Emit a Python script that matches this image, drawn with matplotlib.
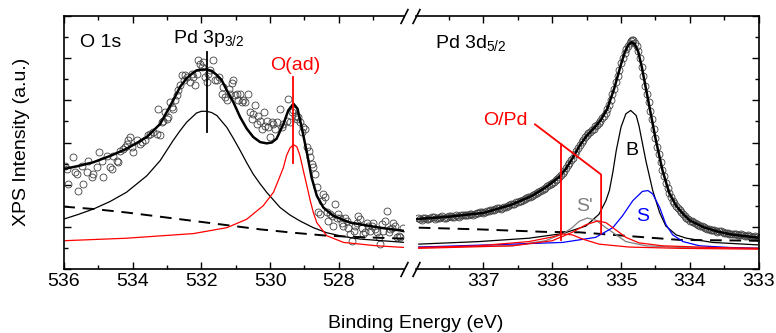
import numpy as np
import matplotlib
matplotlib.use("Agg")
import matplotlib.pyplot as plt
from matplotlib.ticker import MultipleLocator

plt.rcParams['font.family'] = ['Liberation Sans', 'DejaVu Sans']
plt.rcParams['mathtext.default'] = 'regular'

# ---------------- O 1s / Pd 3p region (left) ----------------
o1s_be = [535.97, 535.90, 535.87, 535.73, 535.68, 535.63, 535.58, 535.49, 535.44, 535.34,
          535.29, 535.19, 535.15, 535.05, 534.97, 534.90, 534.85, 534.76, 534.66, 534.61,
          534.56, 534.47, 534.42, 534.37, 534.27, 534.22, 534.18, 534.13, 534.08, 534.03,
          533.98, 533.88, 533.79, 533.74, 533.64, 533.54, 533.50, 533.40, 533.30, 533.25,
          533.20, 533.16, 533.11, 533.06, 533.01, 532.96, 532.91, 532.86, 532.82, 532.77,
          532.72, 532.67, 532.62, 532.57, 532.52, 532.48, 532.43, 532.33, 532.28, 532.23,
          532.18, 532.14, 532.09, 532.04, 531.99, 531.94, 531.89, 531.85, 531.80, 531.75,
          531.65, 531.60, 531.55, 531.50, 531.41, 531.36, 531.31, 531.26, 531.21, 531.17,
          531.12, 531.07, 531.02, 530.97, 530.92, 530.87, 530.83, 530.78, 530.73, 530.63,
          530.58, 530.53, 530.49, 530.44, 530.39, 530.34, 530.29, 530.24, 530.19, 530.15,
          530.10, 530.05, 530.00, 529.95, 529.90, 529.85, 529.81, 529.71, 529.66, 529.61,
          529.52, 529.47, 529.42, 529.37, 529.32, 529.27, 529.22, 529.18, 529.13, 529.08,
          529.03, 528.98, 528.93, 528.88, 528.83, 528.79, 528.74, 528.69, 528.64, 528.59,
          528.54, 528.49, 528.45, 528.40, 528.35, 528.30, 528.25, 528.20, 528.16, 528.11,
          528.06, 528.01, 527.96, 527.91, 527.87, 527.82, 527.77, 527.72, 527.67, 527.62,
          527.57, 527.52, 527.48, 527.43, 527.38, 527.33, 527.28, 527.23, 527.18, 527.14,
          527.09, 527.04, 526.99, 526.94, 526.89, 526.84, 526.80, 526.75, 526.70, 526.65,
          526.60, 526.55, 526.50, 526.46, 526.41, 526.36, 526.31, 526.26, 526.21, 526.12]
o1s_int = [2.45, 2.37, 2.02, 2.65, 2.29, 2.25, 1.86, 2.45, 2.02, 2.29,
           2.57, 2.17, 2.25, 2.41, 2.77, 2.57, 2.17, 2.69, 2.41, 2.37,
           2.69, 2.57, 2.53, 2.81, 2.85, 2.89, 2.97, 3.05, 3.13, 2.89,
           2.77, 3.05, 2.97, 3.01, 3.05, 3.17, 3.19, 3.25, 3.21, 3.80,
           3.17, 3.48, 3.52, 3.72, 3.56, 3.60, 3.96, 3.84, 3.80, 4.00,
           4.12, 4.24, 4.36, 4.60, 4.48, 4.60, 4.56, 4.44, 4.63, 4.56,
           4.36, 4.63, 4.95, 4.87, 4.79, 4.91, 4.56, 4.44, 4.63, 4.71,
           4.95, 4.48, 4.48, 4.56, 4.16, 4.32, 4.08, 4.00, 4.28, 4.16,
           4.40, 4.48, 4.12, 4.16, 4.00, 4.16, 3.96, 4.00, 3.96, 4.16,
           3.72, 3.56, 3.68, 3.88, 3.44, 3.64, 3.52, 3.33, 3.72, 3.40,
           3.52, 3.36, 3.13, 3.48, 3.44, 3.33, 3.48, 3.80, 3.36, 3.44,
           3.52, 4.04, 3.48, 3.72, 3.76, 3.64, 3.56, 3.60, 3.48, 3.25,
           3.36, 3.33, 2.89, 2.81, 2.65, 2.49, 2.41, 2.25, 1.94, 1.34,
           1.30, 1.62, 1.78, 1.70, 1.34, 1.14, 1.30, 1.26, 1.02, 1.54,
           1.22, 1.30, 1.22, 1.10, 1.02, 1.22, 1.14, 0.98, 0.83, 0.67,
           0.90, 1.02, 1.10, 1.26, 1.18, 0.98, 0.83, 0.87, 1.10, 1.02,
           0.90, 1.02, 1.10, 0.94, 0.87, 0.75, 0.59, 1.06, 0.90, 1.14,
           1.38, 0.87, 0.94, 0.98, 1.10, 1.02, 0.75, 0.79, 0.75, 0.98]

o1s_env_be = [536.02, 535.60, 535.15, 534.66, 534.18, 533.88, 533.59, 533.20, 533.01, 532.82,
              532.62, 532.43, 532.28, 532.14, 531.99, 531.85, 531.70, 531.55, 531.41, 531.26,
              531.07, 530.87, 530.68, 530.49, 530.29, 530.10, 529.95, 529.81, 529.61, 529.47,
              529.32, 529.20, 529.08, 528.93, 528.79, 528.64, 528.45, 528.16, 527.67, 527.38,
              526.80, 526.07]
o1s_env = [2.37, 2.44, 2.53, 2.68, 2.85, 2.99, 3.13, 3.44, 3.72, 4.00,
           4.32, 4.52, 4.63, 4.71, 4.73, 4.73, 4.70, 4.60, 4.48, 4.24,
           3.96, 3.60, 3.33, 3.13, 3.01, 2.98, 3.00, 3.09, 3.44, 3.76,
           3.92, 3.80, 3.36, 2.77, 2.17, 1.74, 1.46, 1.26, 1.10, 1.06,
           0.98, 0.90]

pd3p_be = [536.02, 535.60, 535.15, 534.66, 534.18, 533.59, 533.20, 532.82, 532.62, 532.43,
           532.14, 532.00, 531.85, 531.70, 531.55, 531.26, 531.07, 530.87, 530.68, 530.49,
           530.29, 530.10, 529.71, 529.42, 529.13, 528.74, 528.35, 527.86, 527.38, 526.07]
pd3p_int = [1.18, 1.29, 1.42, 1.60, 1.82, 2.21, 2.57, 3.05, 3.28, 3.48,
            3.70, 3.74, 3.74, 3.71, 3.64, 3.36, 3.10, 2.81, 2.52, 2.25,
            2.02, 1.82, 1.46, 1.28, 1.14, 0.98, 0.86, 0.77, 0.71, 0.63]

oad_be = [536.02, 534.18, 532.23, 531.26, 530.68, 530.20, 529.90, 529.76, 529.61, 529.52,
          529.42, 529.32, 529.22, 529.13, 529.03, 528.93, 528.83, 528.74, 528.64, 528.35,
          527.86, 526.89, 526.07]
oad_int = [0.67, 0.73, 0.84, 0.98, 1.18, 1.50, 1.82, 2.10, 2.41, 2.69,
           2.87, 2.95, 2.90, 2.69, 2.33, 1.98, 1.62, 1.34, 1.10, 0.79,
           0.63, 0.55, 0.51]

o1s_bg_be = [536.02, 535.10, 534.18, 533.20, 532.23, 531.26, 530.29, 529.32, 528.35, 527.20, 526.07]
o1s_bg = [1.48, 1.42, 1.34, 1.24, 1.14, 1.04, 0.94, 0.86, 0.79, 0.75, 0.72]

# ---------------- Pd 3d5/2 region (right) ----------------
pd3d_be = [337.95, 337.90, 337.85, 337.80, 337.75, 337.70, 337.65, 337.60, 337.55, 337.50,
           337.45, 337.40, 337.35, 337.30, 337.25, 337.20, 337.15, 337.10, 337.05, 337.00,
           336.95, 336.90, 336.85, 336.80, 336.75, 336.70, 336.65, 336.60, 336.55, 336.50,
           336.45, 336.40, 336.35, 336.30, 336.25, 336.20, 336.15, 336.10, 336.05, 336.00,
           335.95, 335.90, 335.85, 335.80, 335.75, 335.70, 335.65, 335.60, 335.55, 335.50,
           335.45, 335.40, 335.35, 335.30, 335.25, 335.20, 335.15, 335.10, 335.05, 335.00,
           334.95, 334.90, 334.85, 334.82, 334.80, 334.75, 334.70, 334.65, 334.60, 334.55,
           334.50, 334.45, 334.40, 334.35, 334.30, 334.25, 334.20, 334.15, 334.10, 334.05,
           334.00, 333.95, 333.90, 333.85, 333.80, 333.75, 333.70, 333.65, 333.60, 333.55,
           333.50, 333.45, 333.40, 333.35, 333.30, 333.25, 333.20, 333.15, 333.10, 333.05,
           333.00]
pd3d_int = [1.20, 1.17, 1.21, 1.19, 1.23, 1.18, 1.22, 1.25, 1.21, 1.26,
            1.23, 1.27, 1.24, 1.29, 1.27, 1.31, 1.28, 1.33, 1.35, 1.32,
            1.37, 1.39, 1.41, 1.44, 1.42, 1.47, 1.50, 1.53, 1.55, 1.60,
            1.62, 1.66, 1.70, 1.73, 1.79, 1.83, 1.88, 1.93, 1.99, 2.04,
            2.10, 2.18, 2.27, 2.40, 2.52, 2.64, 2.80, 2.95, 3.06, 3.18,
            3.26, 3.33, 3.42, 3.52, 3.63, 3.80, 4.00, 4.28, 4.58, 4.88,
            5.12, 5.30, 5.40, 5.44, 5.35, 5.18, 4.80, 4.35, 3.95, 3.55,
            3.10, 2.72, 2.35, 2.05, 1.80, 1.62, 1.50, 1.40, 1.31, 1.22,
            1.15, 1.12, 1.06, 1.02, 1.00, 0.96, 0.93, 0.92, 0.88, 0.89,
            0.85, 0.86, 0.82, 0.84, 0.80, 0.82, 0.78, 0.80, 0.76, 0.78,
            0.74]
# interleaved data points (second half of the dense scan)
pd3d_be2 = [337.925, 337.875, 337.825, 337.775, 337.725, 337.675, 337.625, 337.575, 337.525, 337.475,
            337.425, 337.375, 337.325, 337.275, 337.225, 337.175, 337.125, 337.075, 337.025, 336.975,
            336.925, 336.875, 336.825, 336.775, 336.725, 336.675, 336.625, 336.575, 336.525, 336.475,
            336.425, 336.375, 336.325, 336.275, 336.225, 336.175, 336.125, 336.075, 336.025, 335.975,
            335.925, 335.875, 335.825, 335.775, 335.725, 335.675, 335.625, 335.575, 335.525, 335.475,
            335.425, 335.375, 335.325, 335.275, 335.225, 335.175, 335.125, 335.075, 335.025, 334.975,
            334.925, 334.875, 334.835, 334.775, 334.725, 334.675, 334.625, 334.575, 334.525, 334.475,
            334.425, 334.375, 334.325, 334.275, 334.225, 334.175, 334.125, 334.075, 334.025, 333.975,
            333.925, 333.875, 333.825, 333.775, 333.725, 333.675, 333.625, 333.575, 333.525, 333.475,
            333.425, 333.375, 333.325, 333.275, 333.225, 333.175, 333.125, 333.075, 333.025]
pd3d_int2 = [1.19, 1.22, 1.18, 1.21, 1.24, 1.20, 1.23, 1.22, 1.24, 1.25,
             1.24, 1.26, 1.27, 1.28, 1.29, 1.30, 1.31, 1.32, 1.34, 1.35,
             1.38, 1.40, 1.43, 1.44, 1.45, 1.48, 1.52, 1.54, 1.58, 1.61,
             1.64, 1.68, 1.71, 1.76, 1.81, 1.86, 1.90, 1.96, 2.02, 2.07,
             2.14, 2.22, 2.33, 2.46, 2.58, 2.72, 2.87, 3.01, 3.12, 3.22,
             3.30, 3.38, 3.47, 3.58, 3.71, 3.90, 4.14, 4.43, 4.73, 5.00,
             5.22, 5.36, 5.42, 5.28, 5.00, 4.58, 4.15, 3.75, 3.33, 2.90,
             2.53, 2.20, 1.92, 1.70, 1.56, 1.45, 1.35, 1.26, 1.19, 1.13,
             1.09, 1.04, 1.01, 0.98, 0.95, 0.92, 0.90, 0.89, 0.87, 0.85,
             0.84, 0.83, 0.82, 0.81, 0.80, 0.79, 0.78, 0.77, 0.76]

pd3d_env_be = [338.00, 337.50, 337.00, 336.60, 336.30, 336.10, 335.90, 335.80, 335.70, 335.60,
               335.50, 335.40, 335.30, 335.20, 335.10, 335.00, 334.95, 334.90, 334.85, 334.80,
               334.75, 334.70, 334.60, 334.50, 334.40, 334.30, 334.20, 334.10, 334.00, 333.80,
               333.60, 333.40, 333.20, 333.00]
pd3d_env = [1.18, 1.24, 1.33, 1.52, 1.73, 1.93, 2.18, 2.38, 2.64, 2.93,
            3.16, 3.33, 3.52, 3.80, 4.28, 4.86, 5.12, 5.30, 5.38, 5.33,
            5.15, 4.80, 3.95, 3.10, 2.35, 1.80, 1.50, 1.31, 1.15, 0.99,
            0.89, 0.82, 0.78, 0.74]

b_be = [337.94, 337.07, 336.34, 335.85, 335.51, 335.32, 335.22, 335.17, 335.12, 335.07,
        335.00, 334.93, 334.86, 334.78, 334.74, 334.64, 334.54, 334.44, 334.35, 334.20,
        334.05, 333.67, 332.99]
b_int = [0.59, 0.65, 0.73, 0.84, 1.02, 1.30, 1.62, 1.86, 2.29, 2.81,
         3.37, 3.68, 3.76, 3.64, 3.40, 2.57, 1.86, 1.34, 1.02, 0.81,
         0.73, 0.63, 0.57]

s_be = [337.94, 336.58, 335.85, 335.37, 335.12, 334.98, 334.83, 334.69, 334.61, 334.54,
        334.44, 334.35, 334.25, 334.10, 333.86, 333.42, 332.99]
s_int = [0.52, 0.59, 0.63, 0.75, 0.98, 1.26, 1.62, 1.84, 1.86, 1.78,
         1.46, 1.06, 0.81, 0.65, 0.55, 0.51, 0.49]

sp_be = [337.94, 336.58, 336.10, 335.85, 335.71, 335.61, 335.49, 335.37, 335.22, 335.07,
         334.93, 334.64, 334.15, 332.99]
sp_int = [0.52, 0.55, 0.67, 0.83, 0.98, 1.13, 1.21, 1.16, 0.98, 0.81,
          0.65, 0.55, 0.51, 0.49]

opd1_be = [337.94, 337.07, 336.34, 336.00, 335.85, 335.71, 335.56, 335.32, 334.88, 334.15, 332.99]
opd1_int = [0.51, 0.55, 0.65, 0.76, 0.83, 0.81, 0.71, 0.59, 0.52, 0.49, 0.47]

opd2_be = [337.94, 336.58, 336.00, 335.71, 335.51, 335.34, 335.22, 335.07, 334.93, 334.74,
           334.40, 333.67, 332.99]
opd2_int = [0.49, 0.55, 0.67, 0.87, 1.05, 1.14, 1.10, 0.92, 0.75, 0.62,
            0.55, 0.51, 0.49]

pd3d_bg_be = [337.94, 337.07, 336.10, 335.61, 335.12, 334.64, 334.15, 332.99]
pd3d_bg = [0.98, 0.94, 0.88, 0.87, 0.81, 0.75, 0.69, 0.67]

# marker lines (peak positions)
pd3p_mark_be = 531.84
pd3p_mark_y = [5.15, 3.25]
oad_mark_be = 529.32
oad_mark_y = [4.55, 2.51]
opd_path_be = [336.25, 335.29, 335.29]
opd_path_y = [3.43, 2.24, 0.84]
opd_v1_be = 335.88
opd_v1_y = [2.97, 0.68]

W, H = 776, 333
fig = plt.figure(figsize=(W / 100, H / 100), dpi=100)
ax1 = fig.add_axes([64 / W, 64 / H, 340 / W, 253 / H])
ax2 = fig.add_axes([416 / W, 64 / H, 342.7 / W, 253 / H])

mk = dict(linestyle='none', marker='o', ms=5, mfc='none', mec='#404040', mew=0.6)

# left panel
ax1.plot(o1s_be, o1s_int, **mk)
ax1.plot(o1s_bg_be, o1s_bg, color='black', lw=1.4, dashes=(6, 4))
ax1.plot(pd3p_be, pd3p_int, color='black', lw=0.9)
ax1.plot(oad_be, oad_int, color='red', lw=0.9)
ax1.plot(o1s_env_be, o1s_env, color='black', lw=1.8)
ax1.plot([pd3p_mark_be] * 2, pd3p_mark_y, color='black', lw=1.3)
ax1.plot([oad_mark_be] * 2, oad_mark_y, color='red', lw=1.3)

# right panel
ax2.plot(pd3d_be, pd3d_int, **mk)
ax2.plot(pd3d_be2, pd3d_int2, **mk)
ax2.plot(pd3d_bg_be, pd3d_bg, color='black', lw=1.4, dashes=(6, 4))
ax2.plot(b_be, b_int, color='black', lw=0.9)
ax2.plot(sp_be, sp_int, color='#808080', lw=0.9)
ax2.plot(s_be, s_int, color='blue', lw=0.9)
ax2.plot(opd1_be, opd1_int, color='red', lw=0.9)
ax2.plot(opd2_be, opd2_int, color='red', lw=0.9)
ax2.plot(pd3d_env_be, pd3d_env, color='black', lw=1.8)
ax2.plot(opd_path_be, opd_path_y, color='red', lw=1.3)
ax2.plot([opd_v1_be] * 2, opd_v1_y, color='red', lw=1.3)

ax1.set_xlim(536, 526.1)
ax2.set_xlim(337.98, 333)
for ax in (ax1, ax2):
    ax.set_ylim(0, 6)
    ax.yaxis.set_major_locator(MultipleLocator(1))
    ax.yaxis.set_minor_locator(MultipleLocator(0.5))
    ax.tick_params(which='both', direction='in', top=True, labelsize=14, pad=3, width=1)
    ax.tick_params(which='major', length=5)
    ax.tick_params(which='minor', length=3)
    for s in ax.spines.values():
        s.set_linewidth(1.2)
ax1.xaxis.set_major_locator(MultipleLocator(2))
ax1.xaxis.set_minor_locator(MultipleLocator(1))
ax2.xaxis.set_major_locator(MultipleLocator(1))
ax2.xaxis.set_minor_locator(MultipleLocator(0.5))
ax1.spines['right'].set_visible(False)
ax2.spines['left'].set_visible(False)
ax1.tick_params(axis='y', which='both', left=True, right=False, labelleft=False)
ax2.tick_params(axis='y', which='both', left=False, right=True, labelleft=False, labelright=False)

# break marks
bk = dict(marker=[(-1, -2), (1, 2)], markersize=11, linestyle='none', color='k',
          mec='k', mew=1.2, clip_on=False)
ax1.plot([1, 1], [0, 1], transform=ax1.transAxes, **bk)
ax2.plot([0, 0], [0, 1], transform=ax2.transAxes, **bk)

# texts
fs = 14
ax1.text(535.53, 5.26, 'O 1s', fontsize=fs, ha='left', va='baseline')
ax1.text(532.82, 5.37, 'Pd 3p$_{3/2}$', fontsize=fs, ha='left', va='baseline')
ax1.text(530.0, 4.71, 'O(ad)', fontsize=fs, ha='left', va='baseline', color='red')
ax2.text(337.71, 5.23, 'Pd 3d$_{5/2}$', fontsize=fs, ha='left', va='baseline')
ax2.text(337.01, 3.42, 'O/Pd', fontsize=fs, ha='left', va='baseline', color='red')
ax2.text(334.94, 2.71, 'B', fontsize=fs, ha='left', va='baseline')
ax2.text(335.65, 1.38, "S'", fontsize=fs, ha='left', va='baseline', color='#808080')
ax2.text(334.78, 1.13, 'S', fontsize=fs, ha='left', va='baseline', color='blue')

fig.text(22 / W, 1 - 142 / H, 'XPS Intensity (a.u.)', rotation=90, fontsize=fs,
         ha='center', va='center')
fig.text(416 / W, (H - 328) / H, 'Binding Energy (eV)', fontsize=fs,
         ha='center', va='baseline')

fig.savefig('out.png', dpi=100)
